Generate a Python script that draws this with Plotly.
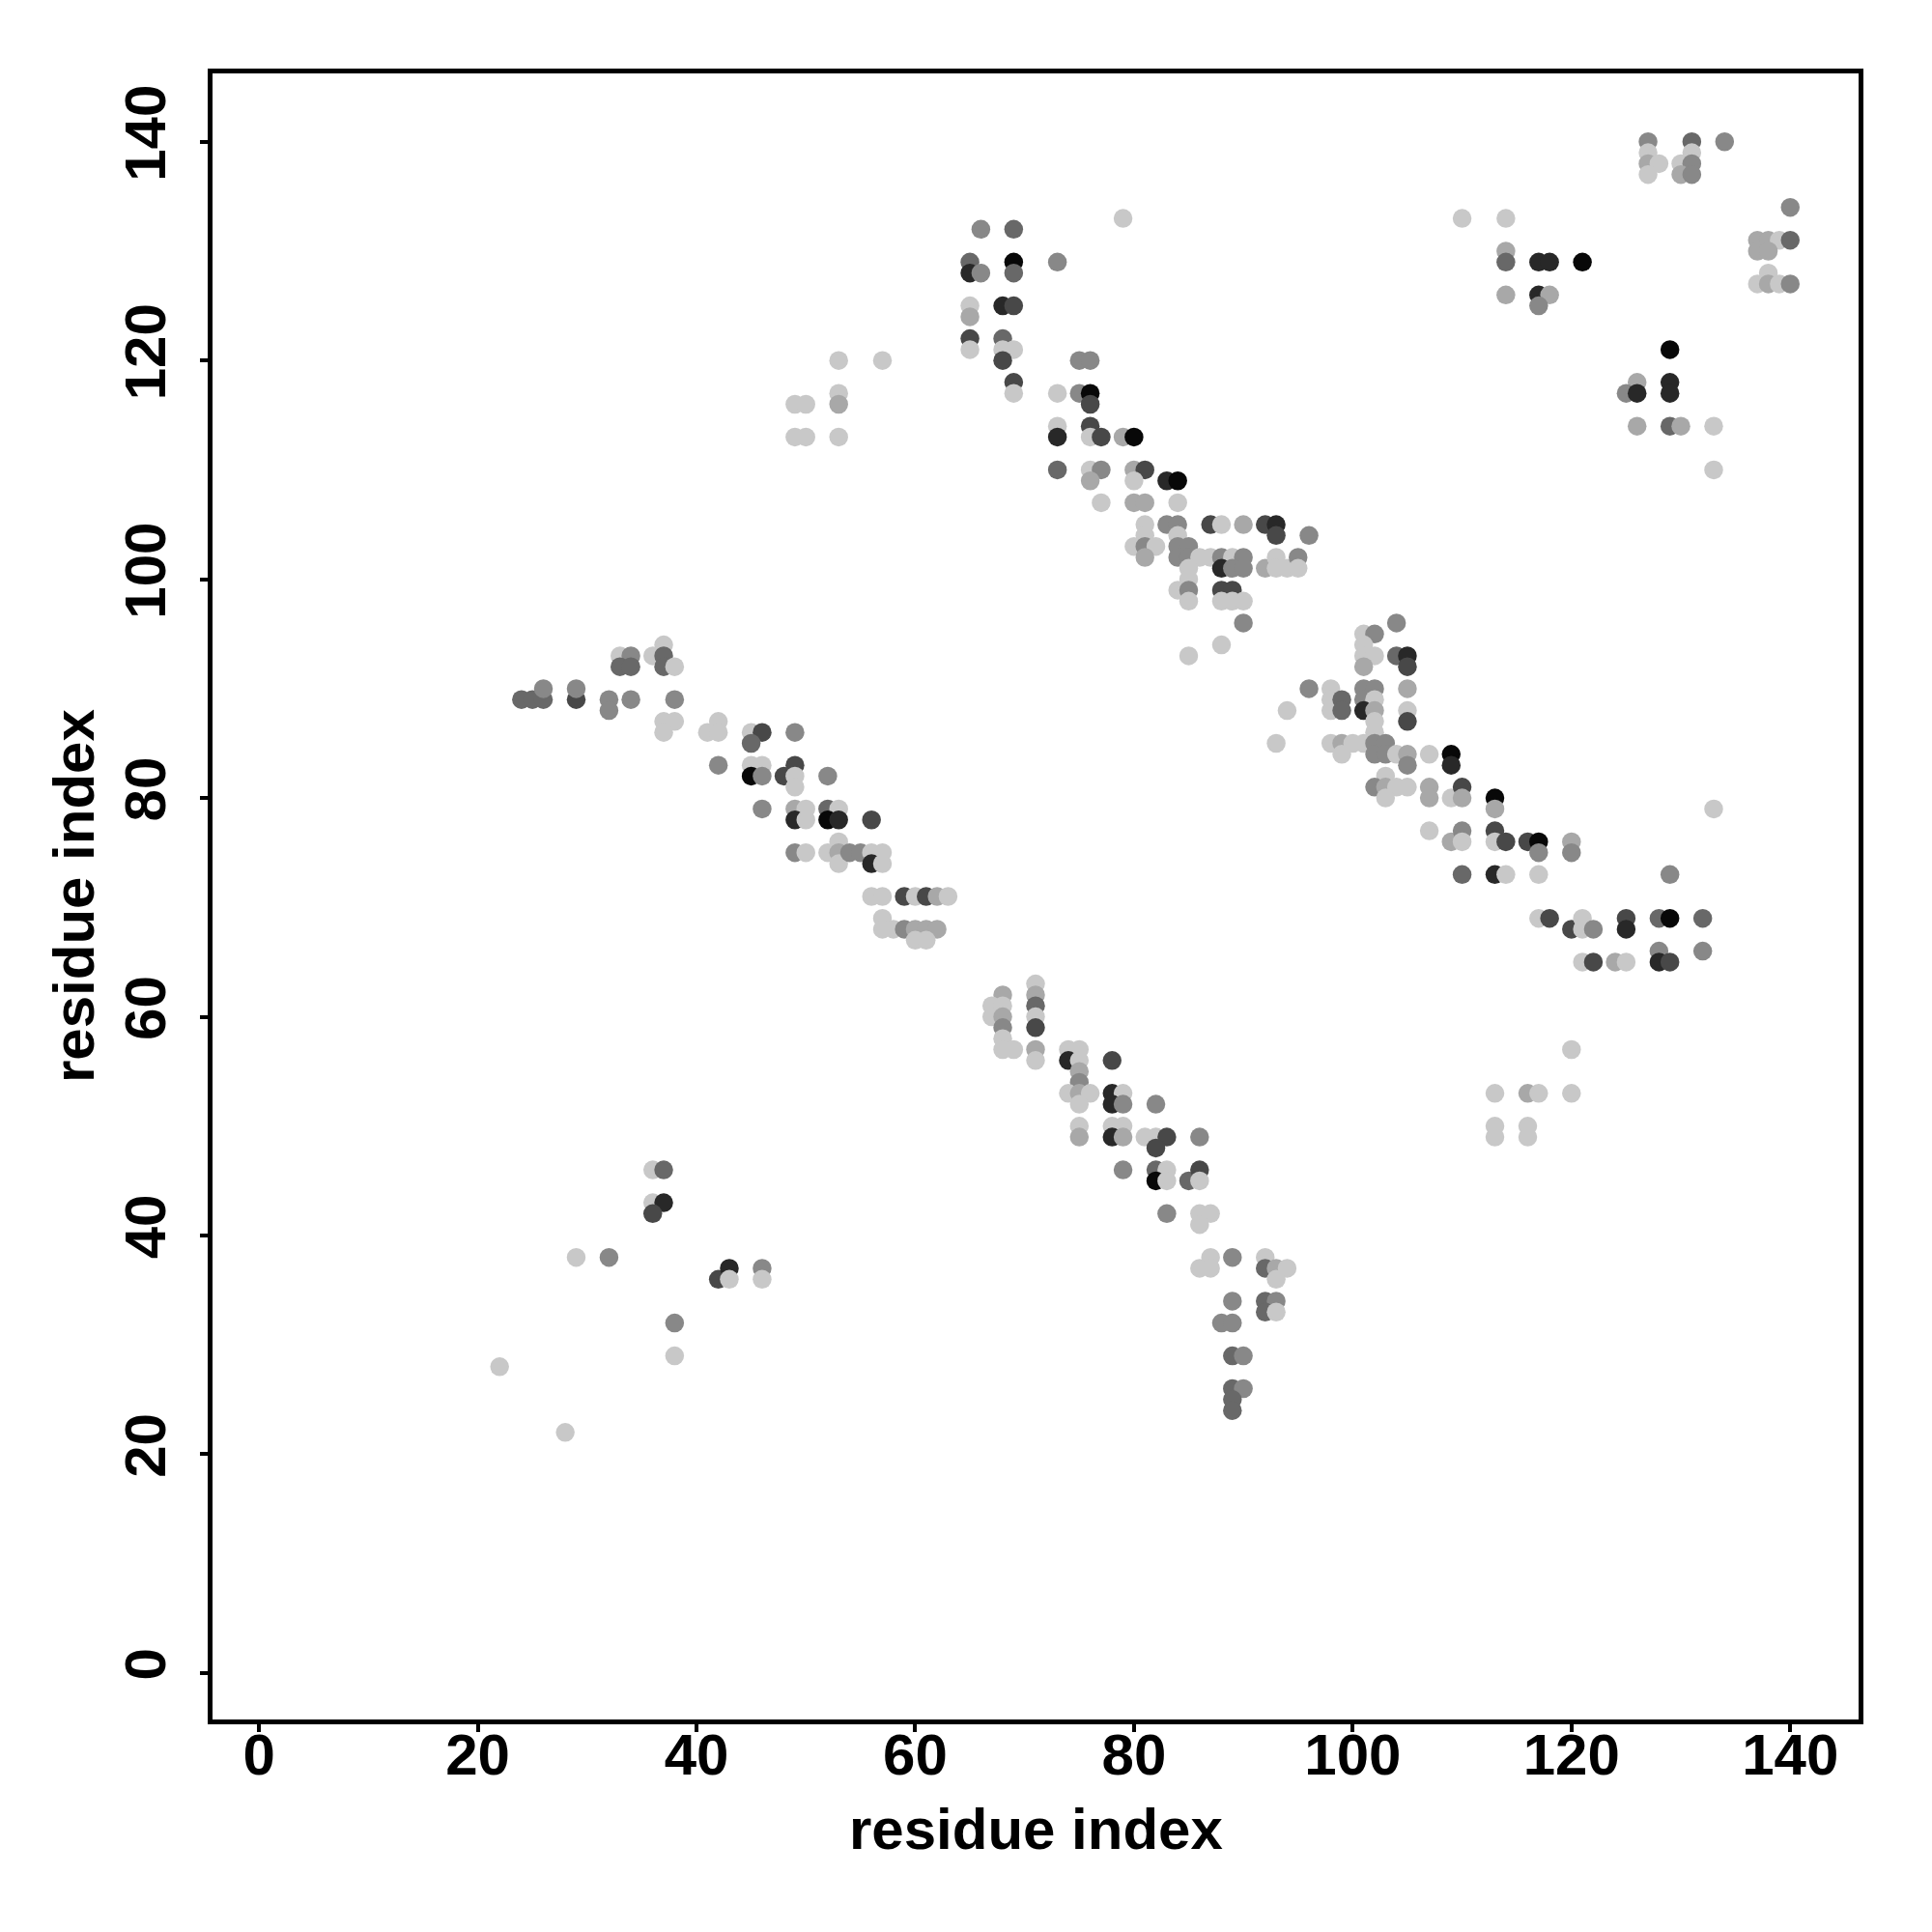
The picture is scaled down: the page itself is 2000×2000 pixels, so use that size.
import plotly.graph_objects as go

# ---------------- data (residue i, residue j, contact strength level 1..7) ----------------
res_i_lower_left = [22, 28, 29, 32, 36, 37, 36, 37, 36, 38, 38, 42, 43, 43, 46, 46]
res_j_lower_left = [28, 22, 38, 38, 46, 46, 43, 43, 42, 32, 29, 36, 37, 36, 37, 36]
level_lower_left = [1, 1, 1, 3, 1, 4, 1, 6, 5, 3, 1, 5, 6, 1, 3, 1]

res_i_lower_mid = [68, 67, 68, 67, 68, 68, 68, 68, 69,
                   71, 71, 71, 71, 71, 71, 71,
                   74, 75, 74, 75, 75, 75, 74, 75, 76, 75,
                   78, 78, 79, 78, 79, 82,
                   75, 75, 78, 79, 78, 79, 81, 82, 83, 82, 86,
                   79, 82, 83, 82, 83, 85, 86, 86,
                   83, 86, 87, 86,
                   86, 87, 87, 89, 92, 92, 93, 94, 93,
                   89, 92, 93, 92, 93, 88, 89,
                   89, 90, 89, 90, 89, 89]
res_j_lower_mid = [62, 61, 61, 60, 60, 59, 58, 57, 57,
                   63, 62, 61, 60, 59, 57, 56,
                   57, 57, 56, 56, 55, 54, 53, 53, 53, 52,
                   56, 53, 53, 52, 52, 52,
                   50, 49, 50, 50, 49, 49, 49, 49, 49, 48, 49,
                   46, 46, 46, 45, 45, 45, 46, 45,
                   42, 42, 42, 41,
                   37, 38, 37, 38, 38, 37, 37, 37, 36,
                   34, 34, 34, 33, 33, 32, 32,
                   29, 29, 26, 26, 25, 24]
level_lower_mid = [2, 1, 1, 1, 2, 3, 1, 1, 1,
                   1, 2, 4, 1, 5, 2, 1,
                   1, 1, 6, 1, 2, 3, 1, 2, 1, 1,
                   5, 6, 1, 6, 3, 3,
                   1, 2, 1, 1, 6, 2, 1, 1, 5, 5, 3,
                   3, 4, 1, 7, 1, 4, 5, 1,
                   3, 1, 1, 1,
                   1, 1, 1, 3, 1, 4, 2, 1, 1,
                   3, 4, 3, 4, 1, 3, 3,
                   4, 3, 4, 3, 4, 4]

res_i_mid_left = [24, 25, 26, 26, 29, 29, 32, 32, 34,
                  33, 34, 33, 34, 37, 36, 37, 37, 38, 38,
                  37, 38, 37, 41, 42, 42, 42,
                  45, 46, 45, 49, 45, 46, 45, 46, 48, 49, 49, 49, 52,
                  46, 49, 50, 49, 50, 52, 53, 52, 53, 56,
                  49, 50, 52, 53, 53, 53, 54, 55, 56, 57, 56, 57,
                  56, 57, 59, 60, 61, 62, 63, 57,
                  57, 58, 59, 60, 61, 62, 60, 61]
res_j_mid_left = [89, 89, 89, 90, 89, 90, 89, 88, 89,
                  93, 93, 92, 92, 94, 93, 93, 92, 92, 89,
                  87, 87, 86, 86, 87, 86, 83,
                  86, 86, 85, 86, 83, 83, 82, 82, 82, 83, 82, 81, 82,
                  79, 79, 79, 78, 78, 79, 79, 78, 78, 78,
                  75, 75, 75, 76, 75, 74, 75, 75, 75, 75, 74, 74,
                  71, 71, 71, 71, 71, 71, 71, 69,
                  68, 68, 68, 68, 68, 68, 67, 67]
level_mid_left = [4, 4, 4, 3, 5, 3, 3, 3, 3,
                  1, 3, 4, 4, 1, 1, 4, 4, 1, 3,
                  1, 1, 1, 1, 1, 1, 3,
                  1, 5, 4, 3, 1, 1, 7, 3, 5, 5, 1, 1, 3,
                  3, 2, 1, 6, 1, 4, 1, 7, 6, 5,
                  3, 1, 1, 1, 2, 1, 3, 3, 1, 1, 6, 1,
                  1, 1, 5, 1, 5, 2, 1, 1,
                  1, 1, 3, 2, 2, 2, 1, 1]

res_i_upper_diag = [66, 69, 79, 65, 65, 66, 69, 69, 73,
                    65, 65, 68, 69, 65, 65, 68, 68, 69, 68,
                    69, 69, 75, 76, 73, 75, 76, 76,
                    73, 73, 76, 76, 77, 79, 80,
                    73, 76, 77, 76, 80, 81, 80, 83, 84,
                    77, 80, 81, 84, 81, 81, 83, 84, 84,
                    80, 81, 82, 81, 84, 85, 84, 85, 86, 87,
                    85, 85, 84, 85, 85,
                    87, 88, 90, 92, 93, 93, 96,
                    88, 89, 90, 88, 89, 90,
                    92, 93, 93, 94, 95, 95,
                    88, 89, 88, 89, 90, 90, 88, 85]
res_j_upper_diag = [132, 132, 133, 129, 128, 128, 129, 128, 129,
                    125, 124, 125, 125, 122, 121, 122, 121, 121, 120,
                    118, 117, 120, 120, 117, 117, 117, 116,
                    114, 113, 114, 113, 113, 113, 113,
                    110, 110, 110, 109, 110, 110, 109, 109, 109,
                    107, 107, 107, 107, 105, 104, 105, 105, 104,
                    103, 103, 103, 102, 103, 103, 102, 102, 102, 102,
                    101, 100, 99, 99, 98,
                    105, 105, 105, 105, 105, 104, 104,
                    102, 102, 102, 101, 101, 101,
                    101, 102, 101, 101, 102, 101,
                    99, 99, 98, 98, 98, 96, 94, 93]
level_upper_diag = [3, 4, 1, 4, 6, 3, 7, 4, 3,
                    1, 2, 6, 5, 5, 1, 4, 1, 1, 5,
                    5, 1, 3, 3, 1, 3, 7, 5,
                    1, 6, 5, 1, 5, 2, 7,
                    4, 1, 3, 2, 2, 5, 1, 6, 7,
                    1, 2, 2, 1, 1, 1, 3, 3, 1,
                    1, 3, 1, 2, 3, 3, 3, 3, 1, 1,
                    1, 1, 1, 3, 1,
                    5, 1, 2, 5, 6, 5, 3,
                    3, 1, 3, 6, 3, 3,
                    2, 1, 1, 1, 3, 1,
                    5, 5, 1, 1, 1, 3, 1, 1]

res_i_top_right = [127, 131, 134, 127, 131, 127, 128, 130, 131, 127, 130, 131,
                   110, 114, 114, 114, 117, 118, 121, 114, 117, 118, 117,
                   140, 137, 138, 139, 140, 137, 138, 138, 137, 138, 139, 140,
                   129, 126, 129, 125, 126, 129, 126, 129, 130, 133, 133]
res_j_top_right = [140, 140, 140, 139, 139, 138, 138, 138, 138, 137, 137, 137,
                   133, 133, 130, 129, 129, 129, 129, 126, 126, 126, 125,
                   134, 131, 131, 131, 131, 130, 130, 128, 127, 127, 127, 127,
                   121, 118, 118, 117, 117, 117, 114, 114, 114, 114, 110]
level_top_right = [3, 4, 3, 1, 1, 2, 1, 1, 3, 1, 2, 3,
                   1, 1, 2, 4, 6, 6, 7, 2, 6, 2, 3,
                   3, 2, 2, 1, 4, 2, 2, 1, 1, 2, 1, 3,
                   7, 2, 6, 3, 6, 6, 2, 4, 2, 1, 1]

res_i_mid_right = [104, 101, 102, 101, 101, 102, 101, 104, 105, 105,
                   96, 98, 98, 98, 99, 99, 101, 102, 101, 102, 101, 102, 102, 102,
                   105, 105, 105, 94, 93,
                   98, 99, 99, 100, 101, 102, 102, 103, 103, 104, 105, 105, 107,
                   109, 109, 103, 102, 103, 104, 105, 103, 107, 107, 109, 110, 110,
                   113, 113, 107, 109, 110, 110, 113, 113, 114, 116, 117, 117, 120, 120, 133,
                   110, 113, 114, 117, 129,
                   117, 118, 120, 121, 121, 122, 125, 125, 128, 129, 132, 128, 132,
                   121, 122, 124, 125, 128, 129]
res_j_mid_right = [96, 95, 95, 94, 93, 93, 92, 93, 93, 92,
                   90, 90, 89, 88, 89, 88, 90, 90, 89, 89, 88, 88, 87, 86,
                   90, 88, 87, 88, 85,
                   85, 85, 84, 85, 85, 85, 84, 85, 84, 84, 84, 83, 84,
                   84, 83, 82, 81, 81, 81, 81, 80, 81, 80, 80, 81, 80,
                   80, 79, 77, 76, 77, 76, 77, 76, 76, 76, 76, 75, 76, 75, 79,
                   73, 73, 73, 73, 73,
                   69, 69, 68, 69, 68, 68, 69, 68, 69, 69, 69, 66, 66,
                   65, 65, 65, 65, 65, 65]
level_mid_right = [3, 1, 3, 1, 1, 1, 2, 4, 6, 5,
                   3, 1, 1, 1, 4, 4, 3, 3, 3, 1, 6, 2, 1, 1,
                   2, 1, 5, 1, 1,
                   1, 2, 1, 1, 1, 3, 3, 3, 3, 1, 2, 3, 1,
                   7, 6, 1, 3, 2, 1, 1, 1, 2, 2, 1, 5, 2,
                   7, 2, 1, 2, 3, 1, 5, 1, 5, 5, 7, 3, 2, 3, 1,
                   4, 6, 1, 1, 3,
                   1, 5, 5, 1, 1, 3, 5, 6, 4, 7, 4, 3, 3,
                   1, 5, 2, 1, 6, 5]

res_i_top_left = [53, 57, 53, 53, 49, 50, 49, 50, 53]
res_j_top_left = [120, 120, 117, 116, 116, 116, 113, 113, 113]
level_top_left = [1, 1, 1, 2, 1, 1, 1, 1, 1]

res_i_bottom_right = [120, 113, 116, 117, 120, 113, 113, 116, 116]
res_j_bottom_right = [57, 53, 53, 53, 53, 50, 49, 50, 49]
level_bottom_right = [1, 1, 2, 1, 1, 1, 1, 1, 1]

tick_values = [0, 20, 40, 60, 80, 100, 120, 140]
axis_title = "residue index"

groups = [
    (res_i_lower_left, res_j_lower_left, level_lower_left),
    (res_i_lower_mid, res_j_lower_mid, level_lower_mid),
    (res_i_mid_left, res_j_mid_left, level_mid_left),
    (res_i_upper_diag, res_j_upper_diag, level_upper_diag),
    (res_i_top_right, res_j_top_right, level_top_right),
    (res_i_mid_right, res_j_mid_right, level_mid_right),
    (res_i_top_left, res_j_top_left, level_top_left),
    (res_i_bottom_right, res_j_bottom_right, level_bottom_right),
]
xs, ys, ls = [], [], []
for gi, (a, b, c) in enumerate(groups):
    if not (len(a) == len(b) == len(c)):
        raise ValueError(f"group {gi} length mismatch {len(a)} {len(b)} {len(c)}")
    xs += a
    ys += b
    ls += c

fig = go.Figure(go.Scatter(
    x=xs, y=ys, mode="markers",
    marker=dict(
        size=19.5,
        color=ls,
        cmin=1, cmax=7,
        colorscale=[[0, "rgb(200,200,200)"], [1, "rgb(8,8,8)"]],
        showscale=False,
        line=dict(width=0),
    ),
    showlegend=False,
    hoverinfo="x+y",
))

font_family = "Liberation Sans, Arial, sans-serif"
axis_common = dict(
    range=[-4.25, 146.25],
    tickvals=tick_values,
    ticks="outside",
    ticklen=8,
    tickwidth=4,
    tickcolor="black",
    showline=True,
    linewidth=5,
    linecolor="black",
    mirror=True,
    showgrid=False,
    zeroline=False,
    tickfont=dict(family=font_family, size=60, color="black", weight="bold"),
)

fig.update_layout(
    width=2000, height=2000,
    margin=dict(l=212, r=84, t=68, b=228),
    paper_bgcolor="white",
    plot_bgcolor="white",
    xaxis=dict(**axis_common, ticklabelstandoff=-28),
    yaxis=dict(**axis_common, tickangle=-90, ticklabelstandoff=12),
    annotations=[
        dict(text=axis_title, xref="paper", yref="paper", x=0.5, y=-0.0665,
             xanchor="center", yanchor="middle", showarrow=False,
             font=dict(family=font_family, size=60, color="black", weight="bold")),
        dict(text=axis_title, xref="paper", yref="paper", x=-0.0845, y=0.5,
             xanchor="center", yanchor="middle", showarrow=False, textangle=-90,
             font=dict(family=font_family, size=60, color="black", weight="bold")),
    ],
)

fig.write_html("out.html")
